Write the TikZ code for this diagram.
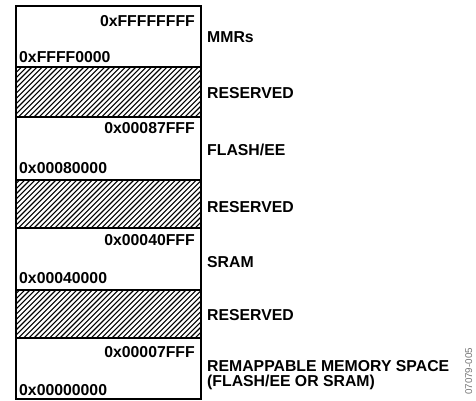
\documentclass[tikz,border=0pt]{standalone}
\usepackage{fontspec}
\setmainfont{Liberation Sans}
\begin{document}
\begin{tikzpicture}[x=1bp,y=-1bp,
  lbl/.style={anchor=base west,inner sep=0pt,font=\fontsize{15.8bp}{14.5bp}\selectfont\bfseries,align=left},
  addrR/.style={anchor=base east,inner sep=0pt,font=\fontsize{15.8bp}{16bp}\selectfont\bfseries},
  addrL/.style={anchor=base west,inner sep=0pt,font=\fontsize{15.8bp}{16bp}\selectfont\bfseries},
  border/.style={line width=1.6bp},
  hatchline/.style={line width=1.1bp}]
\useasboundingbox (0,0) rectangle (476,400);
% hatched regions
\foreach \t/\b in {67/117,180/228,290/338}{
  \begin{scope}
    \clip (16,\t) rectangle (201,\b);
    \foreach \i in {-60,-54.8,...,200} \draw[hatchline] (16+\i,\b) -- ++(60,-60);
  \end{scope}
}
% box and separators
\draw[border] (16,6) rectangle (201,399);
\foreach \y in {67,117,180,228,290,338} \draw[border] (16,\y) -- (201,\y);
% addresses
\node[addrR] (a1) at (195,26) {0xFFFFFFFF};
\node[addrL] (a2) at (19,62) {0xFFFF0000};
\node[addrR] (a3) at (195,133) {0x00087FFF};
\node[addrL] (a4) at (19,173) {0x00080000};
\node[addrR] (a5) at (195,245) {0x00040FFF};
\node[addrL] (a6) at (19,283) {0x00040000};
\node[addrR] (a7) at (195,357) {0x00007FFF};
\node[addrL] (a8) at (19,395) {0x00000000};
% labels
\node[lbl] (l1) at (207,42) {MMRs};
\node[lbl] (l2) at (207,98) {RESERVED};
\node[lbl] (l3) at (207,155) {FLASH/EE};
\node[lbl] (l4) at (207,212) {RESERVED};
\node[lbl] (l5) at (207,267) {SRAM};
\node[lbl] (l6) at (207,320) {RESERVED};
\node[lbl] (l7) at (207,386) {REMAPPABLE MEMORY SPACE\\(FLASH/EE OR SRAM)};
% figure id
\node[rotate=90,anchor=base west,inner sep=0pt,text=black!55,font=\fontsize{9.8bp}{10bp}\selectfont] (fid) at (472,395) {07079-005};
\end{tikzpicture}
\end{document}
